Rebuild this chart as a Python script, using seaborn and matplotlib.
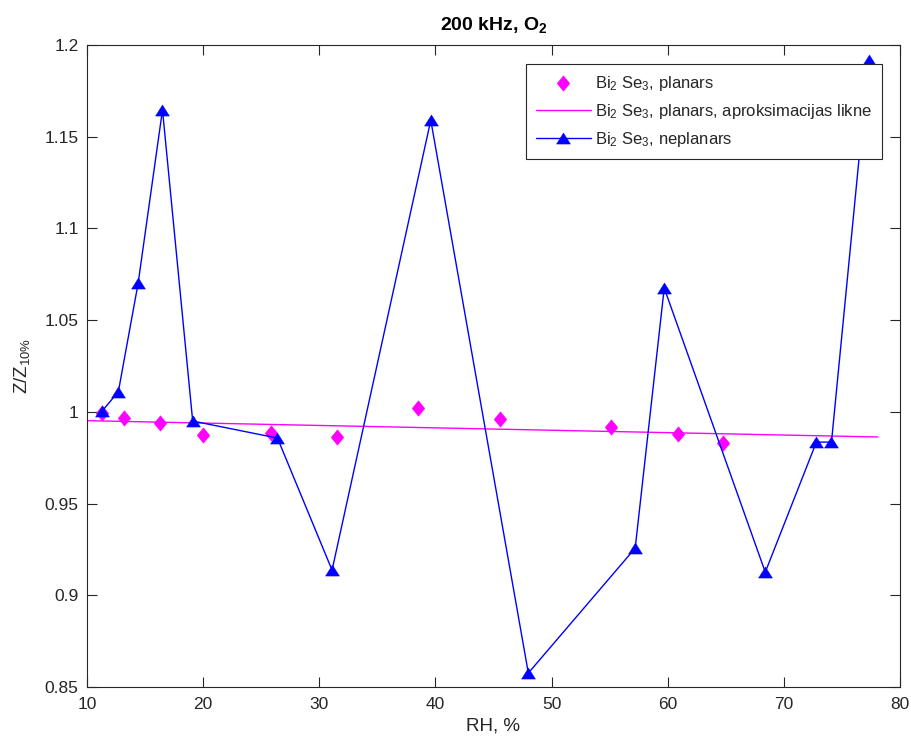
import numpy as np
import pandas as pd
import matplotlib
matplotlib.use("Agg")
import matplotlib.pyplot as plt
import seaborn as sns

# Planar (diamonds)
planar_rh = [11.3, 13.2, 16.3, 20.0, 25.8, 31.55, 38.5, 45.6, 55.1, 60.9, 64.8]
planar_z = [0.9993, 0.9966, 0.9939, 0.9874, 0.9884, 0.9863, 1.002, 0.9961, 0.9917, 0.9879, 0.983]

# Linear approximation line endpoints
fit_rh = [10.0, 78.1]
fit_z = [0.9952, 0.9863]

# Non-planar (triangles)
nonplanar_rh = [11.3, 12.7, 14.4, 16.5, 19.1, 26.4, 31.1, 39.6, 48.0, 57.2, 59.7, 68.4, 72.8, 74.1, 77.3]
nonplanar_z = [1.0004, 1.011, 1.070, 1.1646, 0.995, 0.9857, 0.9137, 1.159, 0.8576, 0.9257, 1.0675, 0.9126, 0.9835, 0.9835, 1.1918]

x_ticks = [10, 20, 30, 40, 50, 60, 70, 80]
y_ticks = [0.85, 0.9, 0.95, 1.0, 1.05, 1.1, 1.15, 1.2]
y_ticklabels = ["0.85", "0.9", "0.95", "1", "1.05", "1.1", "1.15", "1.2"]

sns.set_theme(style="ticks")
plt.rcParams['font.family'] = ['Liberation Sans', 'DejaVu Sans']
plt.rcParams['mathtext.fontset'] = 'custom'
plt.rcParams['mathtext.rm'] = 'Liberation Sans'
plt.rcParams['mathtext.it'] = 'Liberation Sans'
plt.rcParams['mathtext.bf'] = 'Liberation Sans:bold'

fig = plt.figure(figsize=(9.12, 7.44), dpi=100)
ax = fig.add_axes([87/912, 1 - 687/744, (900-87)/912, (687-45)/744])

df_p = pd.DataFrame({"RH": planar_rh, "Z": planar_z})
df_f = pd.DataFrame({"RH": fit_rh, "Z": fit_z})
df_n = pd.DataFrame({"RH": nonplanar_rh, "Z": nonplanar_z})

lab1 = r"Bi$_2$ Se$_3$, planars"
lab2 = r"Bi$_2$ Se$_3$, planars, aproksimacijas likne"
lab3 = r"Bi$_2$ Se$_3$, neplanars"

diamond = [(0, 1), (0.82, 0), (0, -1), (-0.82, 0), (0, 1)]
triangle = [(0, 0.8), (1, -0.8), (-1, -0.8), (0, 0.8)]

sns.scatterplot(data=df_p, x="RH", y="Z", ax=ax, marker=diamond, s=125,
                color="#ff00ff", edgecolor="#ff00ff", linewidth=0.3, label=lab1, zorder=3)
sns.lineplot(data=df_f, x="RH", y="Z", ax=ax, color="#ff00ff", linewidth=1.0,
             label=lab2, sort=False, zorder=2)
sns.lineplot(data=df_n, x="RH", y="Z", ax=ax, color="#0000ff", linewidth=1.0,
             marker=triangle, markersize=10, markeredgecolor="#0000ff", markerfacecolor="#0000ff",
             markeredgewidth=0.3, label=lab3, sort=False, zorder=4)

ax.set_xlim(10, 80)
ax.set_ylim(0.85, 1.2)
ax.set_xticks(x_ticks)
ax.set_yticks(y_ticks)
ax.set_yticklabels(y_ticklabels)
ax.tick_params(direction="in", length=7, width=0.8, colors="#262626", labelsize=12.5,
               top=True, right=True, labelcolor="#262626")
ax.tick_params(axis="y", pad=6)
ax.tick_params(axis="x", pad=7)
for s in ax.spines.values():
    s.set_color("#262626")
    s.set_linewidth(0.8)
    s.set_visible(True)

ax.set_xlabel("RH, %", fontsize=13.5, color="#262626", labelpad=4)
ax.set_ylabel(r"Z/Z$_{10\%}$", fontsize=13.5, color="#262626", labelpad=9)
ax.set_title(r"200 kHz, O$_\mathbf{2}$", fontsize=14, fontweight="bold", color="black", pad=11)

leg = ax.legend(loc="upper right", bbox_to_anchor=(0.978, 0.971), fontsize=12,
                frameon=True, fancybox=False, edgecolor="#262626", framealpha=1,
                borderpad=0.6, handlelength=3.3, handletextpad=0.25, labelspacing=0.55,
                borderaxespad=0)
leg.get_frame().set_linewidth(0.8)

fig.savefig("out.png", dpi=100)
